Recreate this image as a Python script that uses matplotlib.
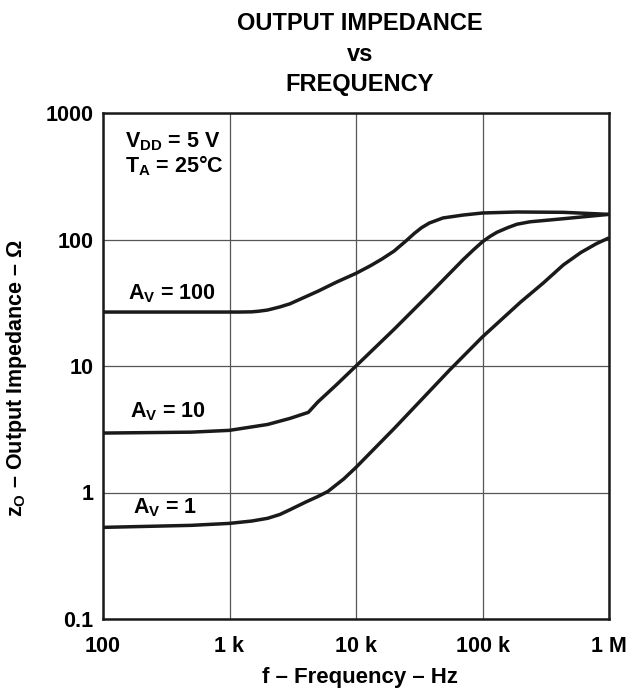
import numpy as np
import matplotlib
matplotlib.use("Agg")
import matplotlib.pyplot as plt

plt.rcParams['font.family'] = ['Liberation Sans', 'DejaVu Sans']
plt.rcParams['font.weight'] = 'bold'
plt.rcParams['mathtext.fontset'] = 'custom'
plt.rcParams['mathtext.rm'] = 'Liberation Sans:bold'
plt.rcParams['mathtext.it'] = 'Liberation Sans:bold'
plt.rcParams['mathtext.bf'] = 'Liberation Sans:bold'

# curves (Hz, ohm)
f_av100 = [100, 1200, 1500, 1700, 2000, 2500, 3000, 5000, 7000, 10000, 13000, 16000, 20000,
           25000, 29000, 33000, 38000, 48700, 70000, 100000, 187000, 436000, 1e6]
z_av100 = [26.7, 26.7, 26.8, 27.1, 27.7, 29.3, 31, 39, 46, 54, 62, 70, 81,
           98, 112, 124, 135, 148, 156, 162, 165, 164, 158]

f_av10 = [100, 500, 1000, 2000, 3000, 4200, 5000, 7000, 10000, 20000, 40000,
          70000, 85000, 100000, 115000, 130000, 158000, 187000, 237000, 436000, 1e6]
z_av10 = [2.95, 3.0, 3.1, 3.45, 3.85, 4.3, 5.2, 7.1, 10, 19.5, 39,
          69, 83, 96, 106, 114, 124, 132, 138, 146, 158]

f_av1 = [100, 500, 1000, 1500, 2000, 2500, 3000, 4000, 5000, 6000, 8000, 10000, 20000,
         55000, 100000, 200000, 300000, 436000, 600000, 800000, 1e6]
z_av1 = [0.53, 0.55, 0.57, 0.595, 0.625, 0.67, 0.73, 0.84, 0.93, 1.02, 1.28, 1.58, 3.2,
         9.3, 17, 32, 45, 63, 79, 93, 103]

x_ticks = [100, 1e3, 1e4, 1e5, 1e6]
x_labels = ['100', '1 k', '10 k', '100 k', '1 M']
y_ticks = [0.1, 1, 10, 100, 1000]
y_labels = ['0.1', '1', '10', '100', '1000']

W, H = 629, 690
fig = plt.figure(figsize=(W / 100, H / 100), dpi=100)
ax = fig.add_axes([103 / W, 1 - 619 / H, 506 / W, 506 / H])

for f, z in [(f_av100, z_av100), (f_av10, z_av10), (f_av1, z_av1)]:
    ax.plot(f, z, color='#1a1a1a', lw=2.5, solid_capstyle='butt',
            solid_joinstyle='round', zorder=3)

ax.set_xscale('log')
ax.set_yscale('log')
ax.set_xlim(100, 1e6)
ax.set_ylim(0.1, 1000)
ax.set_xticks(x_ticks)
ax.set_xticklabels(x_labels)
ax.set_yticks(y_ticks)
ax.set_yticklabels(y_labels)
ax.minorticks_off()
ax.tick_params(length=0, labelsize=15.5, pad=12)
ax.tick_params(axis='y', pad=7)
ax.grid(True, which='major', color='#555555', lw=0.9)
for s in ax.spines.values():
    s.set_linewidth(1.8)
    s.set_color('#1a1a1a')

fig.text(360 / W, 1 - 677 / H, 'f – Frequency – Hz', fontsize=16,
         ha='center', va='center')
fig.text(17 / W, 1 - 378 / H, r'z$_\mathrm{O}$ – Output Impedance – Ω', fontsize=15.5,
         rotation=90, ha='center', va='center')
fig.text(360 / W, 1 - 12 / H, 'OUTPUT IMPEDANCE\nvs\nFREQUENCY', fontsize=17,
         ha='center', va='top', linespacing=1.42)

ax.text(149, 538, r'V$_\mathrm{DD}$ = 5 V', fontsize=15.5, va='baseline')
ax.text(149, 342, r'T$_\mathrm{A}$ = 25°C', fontsize=15.5, va='baseline')
ax.text(158, 33.9, r'A$_\mathrm{V}$ = 100', fontsize=15.5, va='baseline')
ax.text(163, 3.95, r'A$_\mathrm{V}$ = 10', fontsize=15.5, va='baseline')
ax.text(173, 0.689, r'A$_\mathrm{V}$ = 1', fontsize=15.5, va='baseline')

fig.savefig('out.png', dpi=100)
